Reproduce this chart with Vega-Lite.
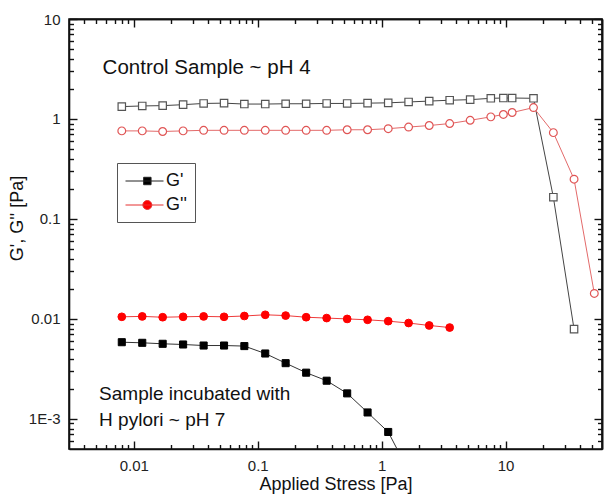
{
  "$schema": "https://vega.github.io/schema/vega-lite/v6.json",
  "width": 533,
  "height": 430,
  "autosize": "none",
  "padding": {"left": 69, "top": 19, "right": 7, "bottom": 46},
  "background": "white",
  "config": {
    "view": {"stroke": "#111", "strokeWidth": 1.6},
    "axis": {"grid": false, "zindex": 2, "labelFont": "Liberation Sans", "titleFont": "Liberation Sans", "labelColor": "#222", "titleColor": "#111", "tickColor": "#111", "tickWidth": 1.4, "domainColor": "#111", "domainWidth": 1.6, "titleFontWeight": "normal"},
    "text": {"font": "Liberation Sans"},
    "legend": {"labelFont": "Liberation Sans"}
  },
  "datasets": {
    "d": [
      {"s": "control", "m": "G'", "x": 0.008, "y": 1.33},
      {"s": "control", "m": "G'", "x": 0.0117, "y": 1.35},
      {"s": "control", "m": "G'", "x": 0.0171, "y": 1.36},
      {"s": "control", "m": "G'", "x": 0.025, "y": 1.39},
      {"s": "control", "m": "G'", "x": 0.0366, "y": 1.43},
      {"s": "control", "m": "G'", "x": 0.0535, "y": 1.44},
      {"s": "control", "m": "G'", "x": 0.078, "y": 1.41},
      {"s": "control", "m": "G'", "x": 0.115, "y": 1.41},
      {"s": "control", "m": "G'", "x": 0.168, "y": 1.42},
      {"s": "control", "m": "G'", "x": 0.246, "y": 1.42},
      {"s": "control", "m": "G'", "x": 0.36, "y": 1.43},
      {"s": "control", "m": "G'", "x": 0.527, "y": 1.43},
      {"s": "control", "m": "G'", "x": 0.77, "y": 1.44},
      {"s": "control", "m": "G'", "x": 1.13, "y": 1.45},
      {"s": "control", "m": "G'", "x": 1.65, "y": 1.48},
      {"s": "control", "m": "G'", "x": 2.42, "y": 1.51},
      {"s": "control", "m": "G'", "x": 3.54, "y": 1.54},
      {"s": "control", "m": "G'", "x": 5.18, "y": 1.56},
      {"s": "control", "m": "G'", "x": 7.6, "y": 1.61},
      {"s": "control", "m": "G'", "x": 9.6, "y": 1.62},
      {"s": "control", "m": "G'", "x": 11.3, "y": 1.62},
      {"s": "control", "m": "G'", "x": 16.8, "y": 1.61},
      {"s": "control", "m": "G'", "x": 24.3, "y": 0.165},
      {"s": "control", "m": "G'", "x": 35.7, "y": 0.0079},
      {"s": "control", "m": "G''", "x": 0.008, "y": 0.76},
      {"s": "control", "m": "G''", "x": 0.0117, "y": 0.76},
      {"s": "control", "m": "G''", "x": 0.0171, "y": 0.75},
      {"s": "control", "m": "G''", "x": 0.025, "y": 0.76},
      {"s": "control", "m": "G''", "x": 0.0366, "y": 0.77},
      {"s": "control", "m": "G''", "x": 0.0535, "y": 0.77},
      {"s": "control", "m": "G''", "x": 0.078, "y": 0.77},
      {"s": "control", "m": "G''", "x": 0.115, "y": 0.77},
      {"s": "control", "m": "G''", "x": 0.168, "y": 0.77},
      {"s": "control", "m": "G''", "x": 0.246, "y": 0.77},
      {"s": "control", "m": "G''", "x": 0.36, "y": 0.77},
      {"s": "control", "m": "G''", "x": 0.527, "y": 0.78},
      {"s": "control", "m": "G''", "x": 0.77, "y": 0.78},
      {"s": "control", "m": "G''", "x": 1.13, "y": 0.8},
      {"s": "control", "m": "G''", "x": 1.65, "y": 0.83},
      {"s": "control", "m": "G''", "x": 2.42, "y": 0.86},
      {"s": "control", "m": "G''", "x": 3.54, "y": 0.9},
      {"s": "control", "m": "G''", "x": 5.18, "y": 0.97},
      {"s": "control", "m": "G''", "x": 7.6, "y": 1.05},
      {"s": "control", "m": "G''", "x": 9.6, "y": 1.11},
      {"s": "control", "m": "G''", "x": 11.3, "y": 1.16},
      {"s": "control", "m": "G''", "x": 16.8, "y": 1.3},
      {"s": "control", "m": "G''", "x": 24.3, "y": 0.73},
      {"s": "control", "m": "G''", "x": 35.7, "y": 0.25},
      {"s": "control", "m": "G''", "x": 52, "y": 0.018},
      {"s": "pylori", "m": "G'", "x": 0.008, "y": 0.00585},
      {"s": "pylori", "m": "G'", "x": 0.0117, "y": 0.00577},
      {"s": "pylori", "m": "G'", "x": 0.0171, "y": 0.00564},
      {"s": "pylori", "m": "G'", "x": 0.025, "y": 0.00555},
      {"s": "pylori", "m": "G'", "x": 0.0366, "y": 0.00542},
      {"s": "pylori", "m": "G'", "x": 0.0535, "y": 0.00542},
      {"s": "pylori", "m": "G'", "x": 0.078, "y": 0.00535},
      {"s": "pylori", "m": "G'", "x": 0.115, "y": 0.00451},
      {"s": "pylori", "m": "G'", "x": 0.168, "y": 0.00361},
      {"s": "pylori", "m": "G'", "x": 0.246, "y": 0.0029},
      {"s": "pylori", "m": "G'", "x": 0.36, "y": 0.00241},
      {"s": "pylori", "m": "G'", "x": 0.527, "y": 0.0018},
      {"s": "pylori", "m": "G'", "x": 0.77, "y": 0.00116},
      {"s": "pylori", "m": "G'", "x": 1.13, "y": 0.00074},
      {"s": "pylori", "m": "G'", "x": 1.65, "y": 0.0003},
      {"s": "pylori", "m": "G''", "x": 0.008, "y": 0.0105},
      {"s": "pylori", "m": "G''", "x": 0.0117, "y": 0.0106},
      {"s": "pylori", "m": "G''", "x": 0.0171, "y": 0.0104},
      {"s": "pylori", "m": "G''", "x": 0.025, "y": 0.0105},
      {"s": "pylori", "m": "G''", "x": 0.0366, "y": 0.0106},
      {"s": "pylori", "m": "G''", "x": 0.0535, "y": 0.0105},
      {"s": "pylori", "m": "G''", "x": 0.078, "y": 0.0107},
      {"s": "pylori", "m": "G''", "x": 0.115, "y": 0.011},
      {"s": "pylori", "m": "G''", "x": 0.168, "y": 0.0108},
      {"s": "pylori", "m": "G''", "x": 0.246, "y": 0.0104},
      {"s": "pylori", "m": "G''", "x": 0.36, "y": 0.0102},
      {"s": "pylori", "m": "G''", "x": 0.527, "y": 0.01},
      {"s": "pylori", "m": "G''", "x": 0.77, "y": 0.0098},
      {"s": "pylori", "m": "G''", "x": 1.13, "y": 0.0095},
      {"s": "pylori", "m": "G''", "x": 1.65, "y": 0.0091},
      {"s": "pylori", "m": "G''", "x": 2.42, "y": 0.0086},
      {"s": "pylori", "m": "G''", "x": 3.54, "y": 0.0082}
    ],
    "notes": [
      {"label": "Control Sample ~ pH 4", "size": 20.5, "x": 0.0056, "y": 2.83},
      {"label": "Sample incubated with", "size": 19, "x": 0.00525, "y": 0.00155},
      {"label": "H pylori ~ pH 7", "size": 19, "x": 0.00525, "y": 0.000857}
    ]
  },
  "encoding": {
    "x": {"field": "x", "type": "quantitative", "scale": {"type": "log", "domain": [0.003, 60], "nice": false}, "axis": null},
    "y": {"field": "y", "type": "quantitative", "scale": {"type": "log", "domain": [0.0005, 10], "nice": false}, "axis": null}
  },
  "resolve": {"axis": {"x": "independent", "y": "independent"}},
  "layer": [
    {
      "data": {"name": "d"},
      "transform": [{"filter": {"and": [{"field": "s", "equal": "control"}, {"field": "m", "equal": "G'"}]}}],
      "mark": {"type": "line", "stroke": "#444", "strokeWidth": 1, "clip": true},
      "encoding": {
        "x": {"field": "x", "type": "quantitative", "scale": {"type": "log", "domain": [0.003, 60], "nice": false},
          "axis": {"orient": "bottom", "values": [0.01, 0.1, 1, 10], "format": "~g", "ticks": true, "tickSize": -8, "domain": false, "labelPadding": 17, "labelFontSize": 15, "title": "Applied Stress [Pa]", "titleFontSize": 18, "titlePadding": 2}},
        "y": {"field": "y", "type": "quantitative", "scale": {"type": "log", "domain": [0.0005, 10], "nice": false},
          "axis": {"orient": "left", "values": [0.001, 0.01, 0.1, 1, 10], "labelExpr": "datum.value < 0.005 ? '1E-3' : format(datum.value, '~g')", "ticks": true, "tickSize": -8, "domain": false, "labelPadding": 17, "labelFontSize": 15, "title": "G', G'' [Pa]", "titleFontSize": 18, "titlePadding": 2, "titleY": 199}}
      }
    },
    {
      "data": {"name": "d"},
      "transform": [{"filter": {"and": [{"field": "s", "equal": "control"}, {"field": "m", "equal": "G''"}]}}],
      "mark": {"type": "line", "stroke": "#e36a6a", "strokeWidth": 1, "clip": true},
      "encoding": {
        "x": {"field": "x", "type": "quantitative", "scale": {"type": "log", "domain": [0.003, 60], "nice": false},
          "axis": {"orient": "top", "values": [0.01, 0.1, 1, 10], "labelExpr": "''", "tickSize": -8, "title": null}},
        "y": {"field": "y", "type": "quantitative", "scale": {"type": "log", "domain": [0.0005, 10], "nice": false},
          "axis": {"orient": "right", "values": [0.001, 0.01, 0.1, 1, 10], "labelExpr": "''", "tickSize": -8, "title": null}}
      }
    },
    {
      "data": {"name": "d"},
      "transform": [{"filter": {"and": [{"field": "s", "equal": "pylori"}, {"field": "m", "equal": "G'"}]}}],
      "mark": {"type": "line", "stroke": "#333", "strokeWidth": 1, "clip": true},
      "encoding": {
        "x": {"field": "x", "type": "quantitative", "scale": {"type": "log", "domain": [0.003, 60], "nice": false},
          "axis": {"orient": "bottom", "values": [0.004, 0.005, 0.006, 0.007, 0.008, 0.009, 0.02, 0.03, 0.04, 0.05, 0.06, 0.07, 0.08, 0.09, 0.2, 0.3, 0.4, 0.5, 0.6, 0.7, 0.8, 0.9, 2, 3, 4, 5, 6, 7, 8, 9, 20, 30, 40, 50], "labelExpr": "''", "tickSize": -4.5, "title": null}},
        "y": {"field": "y", "type": "quantitative", "scale": {"type": "log", "domain": [0.0005, 10], "nice": false},
          "axis": {"orient": "left", "values": [0.0006, 0.0007, 0.0008, 0.0009, 0.002, 0.003, 0.004, 0.005, 0.006, 0.007, 0.008, 0.009, 0.02, 0.03, 0.04, 0.05, 0.06, 0.07, 0.08, 0.09, 0.2, 0.3, 0.4, 0.5, 0.6, 0.7, 0.8, 0.9, 2, 3, 4, 5, 6, 7, 8, 9], "labelExpr": "''", "tickSize": -4.5, "title": null}}
      }
    },
    {
      "data": {"name": "d"},
      "transform": [{"filter": {"and": [{"field": "s", "equal": "pylori"}, {"field": "m", "equal": "G''"}]}}],
      "mark": {"type": "line", "stroke": "#ee3b3b", "strokeWidth": 1, "clip": true},
      "encoding": {
        "x": {"field": "x", "type": "quantitative", "scale": {"type": "log", "domain": [0.003, 60], "nice": false},
          "axis": {"orient": "top", "values": [0.004, 0.005, 0.006, 0.007, 0.008, 0.009, 0.02, 0.03, 0.04, 0.05, 0.06, 0.07, 0.08, 0.09, 0.2, 0.3, 0.4, 0.5, 0.6, 0.7, 0.8, 0.9, 2, 3, 4, 5, 6, 7, 8, 9, 20, 30, 40, 50], "labelExpr": "''", "tickSize": -4.5, "title": null}},
        "y": {"field": "y", "type": "quantitative", "scale": {"type": "log", "domain": [0.0005, 10], "nice": false},
          "axis": {"orient": "right", "values": [0.0006, 0.0007, 0.0008, 0.0009, 0.002, 0.003, 0.004, 0.005, 0.006, 0.007, 0.008, 0.009, 0.02, 0.03, 0.04, 0.05, 0.06, 0.07, 0.08, 0.09, 0.2, 0.3, 0.4, 0.5, 0.6, 0.7, 0.8, 0.9, 2, 3, 4, 5, 6, 7, 8, 9], "labelExpr": "''", "tickSize": -4.5, "title": null}}
      }
    },
    {
      "data": {"name": "d"},
      "transform": [{"filter": {"and": [{"field": "s", "equal": "control"}, {"field": "m", "equal": "G'"}]}}],
      "mark": {"type": "point", "shape": "square", "filled": true, "fill": "white", "stroke": "#555", "strokeWidth": 1.2, "size": 55, "opacity": 1, "clip": true}
    },
    {
      "data": {"name": "d"},
      "transform": [{"filter": {"and": [{"field": "s", "equal": "control"}, {"field": "m", "equal": "G''"}]}}],
      "mark": {"type": "point", "shape": "circle", "filled": true, "fill": "white", "stroke": "#e05555", "strokeWidth": 1.2, "size": 60, "opacity": 1, "clip": true}
    },
    {
      "data": {"name": "d"},
      "transform": [{"filter": {"and": [{"field": "s", "equal": "pylori"}, {"field": "m", "equal": "G'"}]}}],
      "mark": {"type": "point", "shape": "square", "filled": true, "fill": "#000", "stroke": "#000", "strokeWidth": 1, "size": 50, "opacity": 1, "clip": true}
    },
    {
      "data": {"name": "d"},
      "transform": [{"filter": {"and": [{"field": "s", "equal": "pylori"}, {"field": "m", "equal": "G''"}]}}],
      "mark": {"type": "point", "shape": "circle", "filled": true, "fill": "#ff0000", "stroke": "#ff0000", "strokeWidth": 1, "size": 60, "opacity": 1, "clip": true}
    },
    {
      "data": {"name": "notes"},
      "mark": {"type": "text", "align": "left", "baseline": "alphabetic", "color": "#111", "font": "Liberation Sans"},
      "encoding": {
        "text": {"field": "label", "type": "nominal"},
        "size": {"field": "size", "type": "quantitative", "scale": null}
      }
    },
    {
      "data": {"name": "d"},
      "transform": [{"filter": {"field": "s", "equal": "pylori"}}],
      "mark": {"type": "point", "filled": true, "opacity": 0},
      "encoding": {
        "fill": {"field": "m", "type": "nominal", "scale": {"domain": ["G'", "G''"], "range": ["#000", "#ff0000"]},
          "legend": {"title": null, "orient": "none", "legendX": 48, "legendY": 144, "symbolSize": 361, "symbolStrokeWidth": 1, "labelFontSize": 18, "labelOffset": 21, "padding": 8, "rowPadding": 5, "strokeColor": "#555", "fillColor": "white", "labelColor": "#111",
            "encode": {"symbols": {"update": {"fill": {"signal": "datum.value === \"G'\" ? '#000' : '#ff0000'"}, "fillOpacity": {"value": 1}, "opacity": {"value": 1}}}}}},
        "stroke": {"field": "m", "type": "nominal", "scale": {"domain": ["G'", "G''"], "range": ["#222", "#e53030"]},
          "legend": {"title": null, "orient": "none", "legendX": 48, "legendY": 144, "symbolSize": 361, "symbolStrokeWidth": 1, "labelFontSize": 18, "labelOffset": 21, "padding": 8, "rowPadding": 5, "strokeColor": "#555", "fillColor": "white", "labelColor": "#111",
            "encode": {"symbols": {"update": {"fill": {"signal": "datum.value === \"G'\" ? '#000' : '#ff0000'"}, "fillOpacity": {"value": 1}, "opacity": {"value": 1}}}}}},
        "shape": {"field": "m", "type": "nominal", "scale": {"domain": ["G'", "G''"], "range": ["M-1,0H3M0.91,-0.39H1.69V0.39H0.91Z", "M-1,0H3M0.83,0A0.47,0.47 0 1,1 1.77,0A0.47,0.47 0 1,1 0.83,0Z"]},
          "legend": {"title": null, "orient": "none", "legendX": 48, "legendY": 144, "symbolSize": 361, "symbolStrokeWidth": 1, "labelFontSize": 18, "labelOffset": 21, "padding": 8, "rowPadding": 5, "strokeColor": "#555", "fillColor": "white", "labelColor": "#111",
            "encode": {"symbols": {"update": {"fill": {"signal": "datum.value === \"G'\" ? '#000' : '#ff0000'"}, "fillOpacity": {"value": 1}, "opacity": {"value": 1}}}}}}
      }
    }
  ]
}
